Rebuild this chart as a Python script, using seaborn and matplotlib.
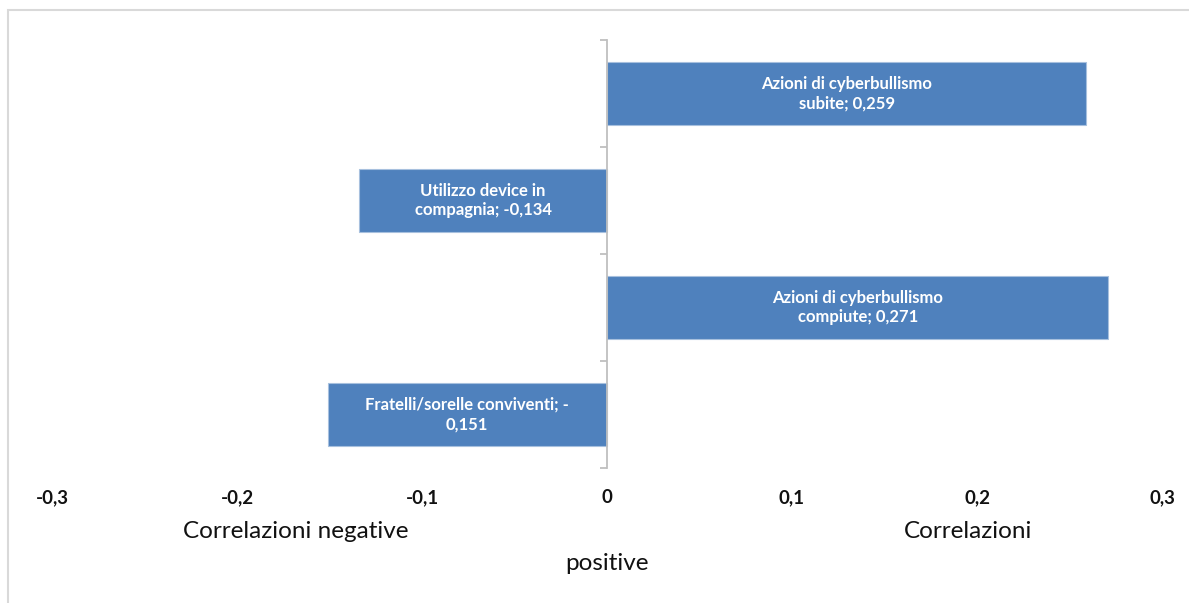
import matplotlib
matplotlib.use("Agg")
import matplotlib.pyplot as plt
from matplotlib.patches import Rectangle
from matplotlib.transforms import blended_transform_factory
import seaborn as sns
import pandas as pd

# Correlation of each factor
categories = [
    "Azioni di cyberbullismo subite",
    "Utilizzo device in compagnia",
    "Azioni di cyberbullismo compiute",
    "Fratelli/sorelle conviventi",
]
label_heads = [
    "Azioni di cyberbullismo\nsubite; ",
    "Utilizzo device in\ncompagnia; ",
    "Azioni di cyberbullismo\ncompiute; ",
    "Fratelli/sorelle conviventi; -\n",
]
values = [0.259, -0.134, 0.271, -0.151]
x_ticks = [-0.3, -0.2, -0.1, 0.0, 0.1, 0.2, 0.3]
x_tick_labels = ["-0,3", "-0,2", "-0,1", "0", "0,1", "0,2", "0,3"]

sns.set_theme(style="white")
plt.rcParams["font.family"] = ["Lato", "DejaVu Sans"]

df = pd.DataFrame({"cat": categories, "val": values})

fig = plt.figure(figsize=(11.89, 6.03), dpi=100)
ax = fig.add_axes([0.0437, 0.2239, 0.9336, 0.7098])

sns.barplot(data=df, x="val", y="cat", orient="h", color="#4F81BD",
            saturation=1, width=0.59, ax=ax, edgecolor="#A7C0DE", linewidth=0.8)

ax.set_xlim(-0.3, 0.3)
ax.set_ylim(3.5, -0.5)


def fmt(v):
    return f"{abs(v):.3f}".replace(".", ",")


# value labels inside bars
for i, (head, v) in enumerate(zip(label_heads, values)):
    if v < 0 and not head.endswith("-\n"):
        txt = head + "-" + fmt(v)
    else:
        txt = head + fmt(v)
    ax.text(v / 2, i, txt, ha="center", va="center", color="white",
            fontsize=12, fontweight="bold", linespacing=1.3)

# vertical axis through zero with category separators
for side in ["top", "right", "bottom"]:
    ax.spines[side].set_visible(False)
ax.spines["left"].set_position(("data", 0))
ax.spines["left"].set_color("#BFBFBF")
ax.spines["left"].set_linewidth(1.3)
ax.set_yticks([-0.5, 0.5, 1.5, 2.5, 3.5])
ax.set_yticklabels([])
ax.tick_params(axis="y", direction="out", length=5, color="#BFBFBF", width=1.3, left=True)

ax.set_xticks(x_ticks)
ax.set_xticklabels(x_tick_labels, fontsize=13.5, fontweight="bold", color="#111111")
ax.tick_params(axis="x", length=0, pad=15)
ax.set_xlabel("")
ax.set_ylabel("")

# axis caption split around the zero line
tr = blended_transform_factory(ax.transData, fig.transFigure)
ax.text(-0.168, 1 - 531 / 603, "Correlazioni negative", transform=tr,
        ha="center", va="center", fontsize=17.5, color="#111111")
ax.text(0.195, 1 - 531 / 603, "Correlazioni", transform=tr,
        ha="center", va="center", fontsize=17.5, color="#111111")
ax.text(0.0, 1 - 564 / 603, "positive", transform=tr,
        ha="center", va="center", fontsize=17.5, color="#111111")

# chart-area frame
fig.patches.append(Rectangle((8 / 1189, -0.2), 1.2, 1.2 - 10 / 603,
                             transform=fig.transFigure, fill=False,
                             edgecolor="#D9D9D9", linewidth=1.5))

fig.savefig("out.png", dpi=100)
